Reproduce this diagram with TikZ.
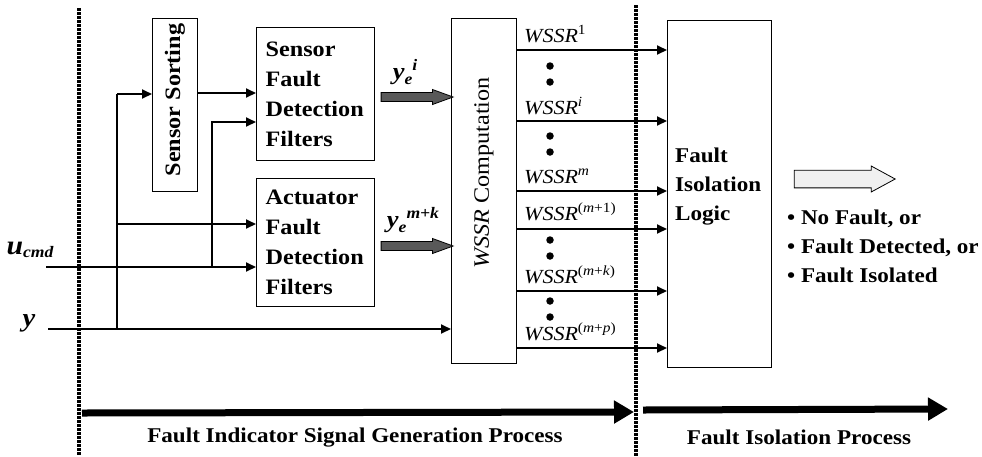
\documentclass[tikz,border=0pt]{standalone}
\usepackage{fontspec}
\setmainfont[FakeStretch=1.1]{Liberation Serif}
\usetikzlibrary{arrows.meta,shapes.arrows,calc}
\begin{document}
\begin{tikzpicture}[x=1pt,y=-1pt,
 box/.style={draw,line width=1.3pt,anchor=north west,inner sep=0pt},
 fdbox/.style={box,minimum width=116pt,minimum height=130pt,text width=100pt,inner xsep=9pt,align=left,font=\bfseries\fontsize{22}{30}\selectfont},
 sig/.style={line width=1.9pt,-{Triangle[length=10pt,width=9pt]}},
 wire/.style={line width=1.9pt},
 sepline/.style={line width=3.5pt,dash pattern=on 2.5pt off 1.5pt},
 bigarrow/.style={line width=7pt,-{Triangle[length=20pt,width=22pt]}},
 txt/.style={font=\bfseries\fontsize{21}{29}\selectfont,inner sep=0pt},
 wl/.style={font=\itshape\fontsize{20}{20}\selectfont,anchor=base west,inner sep=0pt},
 bdot/.style={circle,fill,inner sep=0pt,minimum size=7.5pt},
 fat/.style={single arrow,draw,line width=0.8pt,inner xsep=0pt,inner ysep=4pt,single arrow head extend=3pt,single arrow head indent=0pt}]
\useasboundingbox (0,0) rectangle (982,456);

% separators
\coordinate (s1t) at (79,8); \coordinate (s1b) at (79,456);
\coordinate (s2t) at (636,5); \coordinate (s2b) at (636,456);
\draw[sepline] (s1t) -- (s1b);
\draw[sepline] (s2t) -- (s2b);

% boxes
\node[box,minimum width=45pt,minimum height=173pt] (ss) at (152,18) {};
\node[txt,rotate=90,font=\bfseries\fontsize{22}{22}\selectfont] (sstxt) at (175,100) {Sensor Sorting};
\node[fdbox,minimum height=133pt] (sfd) at (256,27) {Sensor\\Fault\\Detection\\Filters};
\node[fdbox,minimum height=128pt] (afd) at (256,178) {Actuator\\Fault\\Detection\\Filters};
\node[box,minimum width=65pt,minimum height=345pt] (wssr) at (451,18) {};
\node[rotate=90,inner sep=0pt,font=\fontsize{22}{22}\selectfont] (wssrtxt) at (484,173) {\textit{WSSR} Computation};
\node[box,minimum width=104pt,minimum height=347pt] (fil) at (667,20) {};
\node[txt,anchor=west,align=left] (filtxt) at (675,187) {Fault\\Isolation\\Logic};

% inputs
\node[inner sep=0pt,anchor=center] (ulab) at (30,250) {{\bfseries\itshape\fontsize{27}{27}\selectfont u}\raisebox{-3pt}{\bfseries\itshape\fontsize{16}{16}\selectfont cmd}};
\node[inner sep=0pt,anchor=center] (ylab) at (29,323) {\bfseries\itshape\fontsize{26}{26}\selectfont y};
\coordinate (yin) at (48,329);
\coordinate (uin) at (46,267);
\draw[sig] (yin) -- (yin -| wssr.west);
\draw[sig] (uin) -- (uin -| afd.west);

\coordinate (b1) at (117,329);
\coordinate (b1t) at (117,94);
\coordinate (b1m) at (117,224);
\draw[wire] (b1) -- (b1t);
\draw[sig] (b1t) -- (b1t -| ss.west);
\draw[sig] (b1m) -- (b1m -| afd.west);
\coordinate (b2) at (212,267);
\coordinate (b2t) at (212,122);
\draw[sig] (b2) -- (b2t) -- (b2t -| sfd.west);
\coordinate (ssout) at (197,93);
\draw[sig] (ssout) -- (ssout -| sfd.west);

% residual arrows
\node[fat,fill=black!65,minimum height=72pt,minimum width=15pt,single arrow tip angle=40] (ye1) at (411,97) {};
\node[fat,fill=black!65,minimum height=72pt,minimum width=15pt,single arrow tip angle=40] (ye2) at (411,246) {};
\node[inner sep=0pt] (ye1lab) at (405,72) {\bfseries\itshape\fontsize{24}{24}\selectfont y\raisebox{-5pt}{\fontsize{16}{16}\selectfont e}\raisebox{9pt}{\fontsize{16}{16}\selectfont i}};
\node[inner sep=0pt] (ye2lab) at (413,220) {\bfseries\itshape\fontsize{24}{24}\selectfont y\raisebox{-5pt}{\fontsize{16}{16}\selectfont e}\raisebox{9pt}{\fontsize{16}{16}\selectfont m+k}};

% WSSR outputs
\foreach \yy [count=\k] in {50,121,191,229,291,348} {
  \coordinate (w\k) at (516,\yy);
  \draw[sig] (w\k) -- (w\k -| fil.west);
}
\node[wl] (l1) at (524,42) {WSSR\textsuperscript{\upshape 1}};
\node[wl] (l2) at (524,114) {WSSR\textsuperscript{i}};
\node[wl] (l3) at (524,183) {WSSR\textsuperscript{m}};
\node[wl] (l4) at (524,220) {WSSR\textsuperscript{\upshape(\textit{m}+1)}};
\node[wl] (l5) at (524,283) {WSSR\textsuperscript{\upshape(\textit{m}+\textit{k})}};
\node[wl] (l6) at (524,340) {WSSR\textsuperscript{\upshape(\textit{m}+\textit{p})}};
\foreach \yy [count=\k] in {66,82,136,152,240,256,301,317} {
  \node[bdot] (d\k) at (550,\yy) {};
}

% output
\node[fat,fill=gray!12,inner ysep=6pt,minimum height=101pt,minimum width=26pt,single arrow tip angle=57] (outarr) at (836.5,179) {};
\node[txt,anchor=west,align=left] (outtxt) at (787,246) {• No Fault, or\\• Fault Detected, or\\• Fault Isolated};

% process arrows
\coordinate (g1) at (82,413); \coordinate (g2) at (634,412);
\coordinate (h1) at (643,410); \coordinate (h2) at (948,409);
\draw[bigarrow] (g1) -- (g2);
\draw[bigarrow] (h1) -- (h2);
\node[txt] (p1) at (355,438) {Fault Indicator Signal Generation Process};
\node[txt] (p2) at (799,437) {Fault Isolation Process};
\end{tikzpicture}
\end{document}
